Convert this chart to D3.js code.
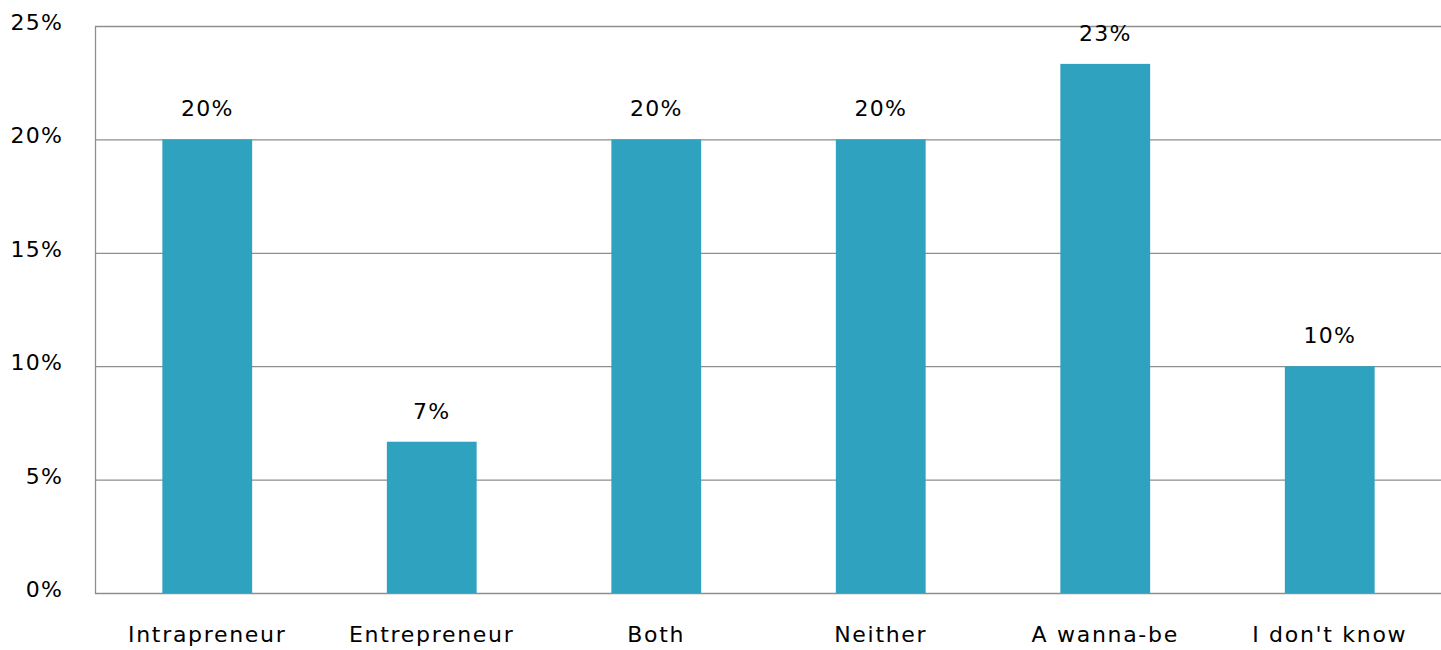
<!DOCTYPE html>
<html>
<head>
<meta charset="utf-8">
<script src="https://cdn.jsdelivr.net/npm/d3@7"></script>
<style>
  body { margin: 0; background: #fff; }
  text { font-family: "DejaVu Sans", sans-serif; fill: #000; }
</style>
</head>
<body>
<div id="chart"></div>
<script>
const categories = ["Intrapreneur", "Entrepreneur", "Both", "Neither", "A wanna-be", "I don't know"];
const values = [20, 6.67, 20, 20, 23.33, 10];
const valueLabels = ["20%", "7%", "20%", "20%", "23%", "10%"];
const yTicks = [0, 5, 10, 15, 20, 25];

const width = 1441, height = 650;
const margin = { top: 26, right: 0, bottom: 57, left: 95 };

const svg = d3.select("#chart").append("svg")
    .attr("width", width)
    .attr("height", height);

const x = d3.scaleBand()
    .domain(categories)
    .range([margin.left, width + 1])
    .paddingInner(0.6)
    .paddingOuter(0.3);

const y = d3.scaleLinear()
    .domain([0, 25])
    .range([height - margin.bottom, margin.top]);

// gridlines
svg.append("g")
    .selectAll("line")
    .data(yTicks)
    .join("line")
    .attr("x1", margin.left)
    .attr("x2", width)
    .attr("y1", d => y(d) + 0.5)
    .attr("y2", d => y(d) + 0.5)
    .attr("stroke", "#8e8e8e")
    .attr("stroke-width", 1.3);

// y axis line
svg.append("line")
    .attr("x1", margin.left + 0.5)
    .attr("x2", margin.left + 0.5)
    .attr("y1", y(25))
    .attr("y2", y(0) + 1)
    .attr("stroke", "#8e8e8e")
    .attr("stroke-width", 1.3);

// y tick labels
svg.append("g")
    .selectAll("text")
    .data(yTicks)
    .join("text")
    .attr("x", 63)
    .attr("y", d => y(d) + 4)
    .attr("text-anchor", "end")
    .attr("font-size", 22)
    .attr("letter-spacing", 1.2)
    .text(d => d + "%");

// bars
svg.append("g")
    .selectAll("rect")
    .data(values)
    .join("rect")
    .attr("x", (d, i) => x(categories[i]))
    .attr("width", x.bandwidth())
    .attr("y", d => y(d))
    .attr("height", d => y(0) - y(d))
    .attr("fill", "#2ea2bf");

// value labels
svg.append("g")
    .selectAll("text")
    .data(values)
    .join("text")
    .attr("x", (d, i) => x(categories[i]) + x.bandwidth() / 2)
    .attr("y", d => y(d) - 23)
    .attr("text-anchor", "middle")
    .attr("font-size", 22)
    .attr("letter-spacing", 1.2)
    .text((d, i) => valueLabels[i]);

// category labels
svg.append("g")
    .selectAll("text")
    .data(categories)
    .join("text")
    .attr("x", d => x(d) + x.bandwidth() / 2)
    .attr("y", 642)
    .attr("text-anchor", "middle")
    .attr("font-size", 22)
    .attr("letter-spacing", 1.7)
    .text(d => d);
</script>
</body>
</html>
